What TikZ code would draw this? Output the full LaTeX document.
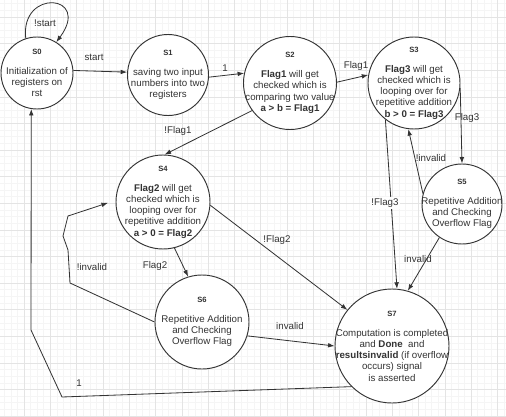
\documentclass[tikz,border=0pt]{standalone}
\usepackage{fontspec}
\setmainfont{Liberation Sans}
\usetikzlibrary{arrows.meta}
\definecolor{linegray}{RGB}{51,51,51}
\definecolor{gridmajor}{RGB}{228,228,228}
\definecolor{gridminor}{RGB}{245,245,245}

\begin{document}
\begin{tikzpicture}[
    x=0.03cm,
    y=-0.03cm,
    >={Latex[length=5.5pt,width=4pt]},
    st/.style={
        circle,
        draw=linegray,
        line width=0.8pt,
        fill=white,
        inner sep=0pt
    },
    txt/.style={
        align=center,
        text=linegray,
        font=\fontsize{8.3}{9.6}\selectfont
    },
    lbl/.style={
        text=linegray,
        inner sep=1pt,
        font=\fontsize{8.3}{9.6}\selectfont
    },
    e/.style={->,draw=linegray,line width=0.7pt}
]
\newcommand{\sname}[1]{{\fontsize{6.5}{7}\selectfont\bfseries #1}\\[7.4pt]}

\useasboundingbox[fill=white] (0,0) rectangle (506,416);

% background grid
\foreach \k in {0,...,80} {
    \draw[gridminor,line width=0.4pt] ({-2.3+6.575*\k},0) -- ({-2.3+6.575*\k},416);
}
\foreach \k in {0,...,64} {
    \draw[gridminor,line width=0.4pt] (0,{-9.6+6.65*\k}) -- (506,{-9.6+6.65*\k});
}
\foreach \k in {0,...,20} {
    \draw[gridmajor,line width=0.5pt] ({-2.3+26.3*\k},0) -- ({-2.3+26.3*\k},416);
}
\foreach \k in {0,...,16} {
    \draw[gridmajor,line width=0.5pt] (0,{-9.6+26.6*\k}) -- (506,{-9.6+26.6*\k});
}

% states
\node[st, minimum size=2.16cm, label={[txt]center:{\sname{S0}Initialization of\\registers on\\rst}}] (s0) at (37,73) {};
\node[st, minimum size=2.43cm, label={[txt]center:{\sname{S1}saving two input\\numbers into two\\registers}}] (s1) at (168,75) {};
\node[st, minimum size=2.79cm, label={[txt]center:{\sname{S2}\textbf{Flag1} will get\\checked which is\\comparing two value\\\textbf{a > b = Flag1}}}] (s2) at (290,83) {};
\node[st, minimum size=2.76cm, label={[txt]center:{\sname{S3}\textbf{Flag3} will get\\checked which is\\looping over for\\repetitive addition\\\textbf{b > 0 = Flag3}}}] (s3) at (414,83) {};
\node[st, minimum size=2.82cm, label={[txt]center:{\sname{S4}\textbf{Flag2} will get\\checked which is\\looping over for\\repetitive addition\\\textbf{a > 0 = Flag2}}}] (s4) at (163,202) {};
\node[st, minimum size=2.40cm, label={[txt]center:{\sname{S5}Repetitive Addition\\and Checking\\Overflow Flag}}] (s5) at (462,204) {};
\node[st, minimum size=2.82cm, label={[txt]center:{\sname{S6}Repetitive Addition\\and Checking\\Overflow Flag}}] (s6) at (202,322) {};
\node[st, minimum size=3.42cm, label={[txt]center:{\sname{S7}Computation is completed\\and \textbf{Done}~ and\\\textbf{resultsinvalid} (if overflow\\occurs) signal\\is asserted}}] (s7) at (392,346) {};

% transitions
\draw[e] (s0.108) .. controls (20,-12) and (92,-6) .. (s0.58);
\draw[e] (s0.4) -- (s1.176);
\draw[e] (s1.357) -- (s2.168);
\draw[e] (s2.1) -- (s3.170);
\draw[e] (s2.216) -- (s4.88);
\draw[e] (s3.-6) -- (s5.north);
\draw[e] (s5.165) -- (s3.263);
\draw[e] (s3.232) -- (s7.85);
\draw[e] (s5.236) -- (s7.74);
\draw[e] (s4.-4) -- (s7.141);
\draw[e] (s4.284) -- (s6.107);
\draw[e] (s6.343) -- (s7.180);
\draw[e, shorten >=0.24cm] (s6.180) -- (70,283) -- (68,250) -- (63,236) -- (68,216) -- (s4.178);
\draw[e] (s7.225) -- (62,397) -- (31,330) -- (s0.261);

% transition labels
\node[lbl] (lnstart) at (45,23) {!start};
\node[lbl] (lstart) at (94,57) {start};
\node[lbl] (lone) at (225,68) {1};
\node[lbl] (lflagone) at (356,66) {Flag1};
\node[lbl] (lnflagone) at (178,131) {!Flag1};
\node[lbl] (lflagthree) at (467,118) {Flag3};
\node[lbl] (lninvalidthree) at (431,158) {!invalid};
\node[lbl, fill=white] (lnflagthree) at (385,203) {!Flag3};
\node[lbl] (linvalidfive) at (418,259) {invalid};
\node[lbl] (lnflagtwo) at (277,240) {!Flag2};
\node[lbl] (lflagtwo) at (155,266) {Flag2};
\node[lbl] (lninvalidsix) at (92,267) {!invalid};
\node[lbl] (linvalidsix) at (290,326) {invalid};
\node[lbl] (lreset) at (79,383) {1};

\end{tikzpicture}
\end{document}
